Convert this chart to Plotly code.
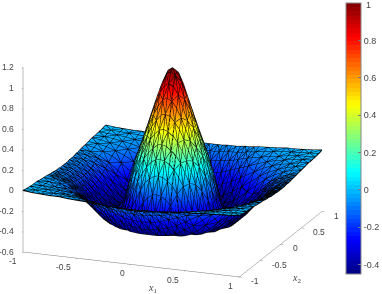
import plotly.graph_objects as go

# Grid node coordinates of one quadrant (distance from centre along each input axis)
node_offsets = [0, .04, .0833, .125, .1667, .2083, .25, .2917, .3333, .375, .4167, .5, .5833, .6667, .75, .8333, .9167, 1]

# Surface heights for the quadrant x1>=0, x2>=0 (rows: x1, cols: x2)
z_quadrant = [
    [1.00, .97, .87, .745, .60, .465, .33, .20, .05, -.12, -.30, -.44, -.44, -.36, -.26, -.17, -.105, -.065],
    [.97, .945, .845, .72, .585, .45, .32, .19, .04, -.13, -.305, -.44, -.44, -.36, -.26, -.165, -.105, -.065],
    [.87, .845, .77, .655, .53, .41, .28, .16, .01, -.16, -.32, -.44, -.44, -.355, -.255, -.165, -.10, -.065],
    [.745, .72, .655, .565, .465, .35, .235, .11, -.03, -.21, -.36, -.445, -.435, -.345, -.25, -.16, -.10, -.06],
    [.60, .585, .53, .465, .37, .27, .17, .04, -.11, -.28, -.39, -.45, -.43, -.335, -.24, -.155, -.095, -.06],
    [.465, .45, .41, .35, .27, .185, .08, -.04, -.20, -.34, -.415, -.45, -.415, -.32, -.225, -.15, -.09, -.06],
    [.33, .32, .28, .235, .17, .08, -.02, -.16, -.30, -.395, -.43, -.45, -.40, -.305, -.21, -.14, -.09, -.055],
    [.20, .19, .16, .11, .04, -.04, -.16, -.28, -.375, -.425, -.44, -.445, -.38, -.29, -.195, -.125, -.085, -.05],
    [.05, .04, .01, -.03, -.11, -.20, -.30, -.375, -.42, -.44, -.45, -.43, -.355, -.265, -.18, -.115, -.075, -.05],
    [-.12, -.13, -.16, -.21, -.28, -.34, -.395, -.425, -.44, -.45, -.45, -.41, -.325, -.245, -.165, -.105, -.07, -.045],
    [-.30, -.305, -.32, -.36, -.39, -.415, -.43, -.44, -.45, -.45, -.44, -.38, -.30, -.215, -.15, -.095, -.065, -.04],
    [-.44, -.44, -.44, -.445, -.45, -.45, -.45, -.445, -.43, -.41, -.38, -.31, -.24, -.17, -.115, -.08, -.05, -.035],
    [-.44, -.44, -.44, -.435, -.43, -.415, -.40, -.38, -.355, -.325, -.30, -.24, -.175, -.125, -.09, -.06, -.04, -.03],
    [-.36, -.36, -.355, -.345, -.335, -.32, -.305, -.29, -.265, -.245, -.215, -.17, -.125, -.09, -.065, -.05, -.03, -.02],
    [-.26, -.26, -.255, -.25, -.24, -.225, -.21, -.195, -.18, -.165, -.15, -.115, -.09, -.065, -.05, -.035, -.025, -.02],
    [-.17, -.165, -.165, -.16, -.155, -.15, -.14, -.125, -.115, -.105, -.095, -.08, -.06, -.05, -.035, -.025, -.02, -.015],
    [-.105, -.105, -.10, -.10, -.095, -.09, -.09, -.085, -.075, -.07, -.065, -.05, -.04, -.03, -.025, -.02, -.015, -.01],
    [-.065, -.065, -.065, -.06, -.06, -.06, -.055, -.05, -.05, -.045, -.04, -.035, -.03, -.02, -.02, -.015, -.01, 0],
]

x_ticks = [-1, -0.5, 0, 0.5, 1]
y_ticks = [-1, -0.5, 0, 0.5, 1]
z_ticks = [-0.6, -0.4, -0.2, 0, 0.2, 0.4, 0.6, 0.8, 1, 1.2]
cbar_ticks = [-0.4, -0.2, 0, 0.2, 0.4, 0.6, 0.8]
cbar_top_label = "1"
cmin, cmax = -0.45, 1.0


def jet(t):
    r = min(1, max(0, min(4 * t - 1.5, -4 * t + 4.5)))
    g = min(1, max(0, min(4 * t - 0.5, -4 * t + 3.5)))
    b = min(1, max(0, min(4 * t + 0.5, -4 * t + 2.5)))
    return f"rgb({int(r*255)},{int(g*255)},{int(b*255)})"


N = 64
scale = []
for k in range(N):
    c = jet((k + 0.5) / N)
    scale += [[k / N, c], [(k + 1) / N, c]]

m = len(node_offsets)
axis = [-v for v in node_offsets[:0:-1]] + node_offsets
n = len(axis)
xs, ys, zs = [], [], []
for a in range(n):
    for b in range(n):
        xs.append(axis[a])
        ys.append(axis[b])
        zs.append(z_quadrant[abs(a - (m - 1))][abs(b - (m - 1))])

idx = lambda a, b: a * n + b
I, J, K = [], [], []
ex, ey, ez = [], [], []


def edge(p, q):
    ex.extend([xs[p], xs[q], None])
    ey.extend([ys[p], ys[q], None])
    ez.extend([zs[p], zs[q], None])


for a in range(n):
    for b in range(n):
        if a < n - 1:
            edge(idx(a, b), idx(a + 1, b))
        if b < n - 1:
            edge(idx(a, b), idx(a, b + 1))
        if a < n - 1 and b < n - 1:
            p, q, r, s = idx(a, b), idx(a + 1, b), idx(a + 1, b + 1), idx(a, b + 1)
            if (a + b) % 2 == 0:
                I += [p, p]; J += [q, r]; K += [r, s]
                edge(p, r)
            else:
                I += [p, q]; J += [q, r]; K += [s, s]
                edge(q, s)

fig = go.Figure()
fig.add_trace(go.Mesh3d(
    x=xs, y=ys, z=zs, i=I, j=J, k=K, intensity=zs,
    colorscale=scale, cmin=cmin, cmax=cmax, flatshading=True,
    lighting=dict(ambient=1, diffuse=0, specular=0, roughness=1, fresnel=0),
    hoverinfo="skip",
    colorbar=dict(
        thickness=15, thicknessmode="pixels", len=271, lenmode="pixels",
        x=346 / 382, xanchor="left", xref="paper",
        y=1 - 3 / 294, yanchor="top", yref="paper",
        tickvals=cbar_ticks, ticktext=[f"{v:g}" for v in cbar_ticks],
        ticks="inside", ticklen=3, tickcolor="#777", outlinecolor="#888", outlinewidth=1,
        xpad=0, ypad=0,
        tickfont=dict(family="Liberation Sans", size=9, color="#444"),
    ),
))
fig.add_trace(go.Scatter3d(
    x=ex, y=ey, z=ez, mode="lines", line=dict(color="black", width=2),
    hoverinfo="skip", showlegend=False,
))

ax_common = dict(
    showbackground=False, showgrid=False, zeroline=False, showspikes=False,
    showline=True, linecolor="#777", linewidth=1, ticks="outside", ticklen=3,
    tickcolor="#777", showticklabels=False, title=dict(text=""),
)
title_font = dict(family="Liberation Serif", size=10, color="#444")
tick_font = dict(family="Liberation Sans", size=8.5, color="#444")

notes = [
    dict(x=0.2, y=-1, z=-0.6, text="<i>x</i><sub>1</sub>", showarrow=False, yshift=-22, font=title_font),
    dict(x=1, y=-0.1, z=-0.6, text="<i>x</i><sub>2</sub>", showarrow=False, xshift=20, yshift=-31, font=title_font),
]
for v in x_ticks:
    notes.append(dict(x=v, y=-1, z=-0.6, text=f"{v:g}", showarrow=False, xanchor="right",
                      xshift=-4, yshift=-9, font=tick_font))
for v in y_ticks:
    notes.append(dict(x=1, y=v, z=-0.6, text=f"{v:g}", showarrow=False, xanchor="left",
                      xshift=10, yshift=-4, font=tick_font))
for v in z_ticks:
    notes.append(dict(x=-1, y=-1, z=v, text=f"{v:g}", showarrow=False, xanchor="right",
                      xshift=-7, font=tick_font))

S = 1.66
fig.update_layout(
    width=382, height=294, margin=dict(l=0, r=0, t=0, b=0),
    paper_bgcolor="white", showlegend=False,
    annotations=[dict(
        x=365 / 382, y=1 - 5 / 294, xref="paper", yref="paper", xanchor="left", yanchor="middle",
        text=cbar_top_label, showarrow=False,
        font=dict(family="Liberation Sans", size=9, color="#444"),
    )],
    scene=dict(
        domain=dict(x=[0, 346 / 382], y=[1 - 279 / 294, 1]),
        aspectmode="manual", aspectratio=dict(x=S, y=S, z=0.836 * S),
        camera=dict(
            projection=dict(type="orthographic"),
            eye=dict(x=0.34 * 2, y=-0.89 * 2, z=0.302 * 2),
            center=dict(x=0, y=0, z=0), up=dict(x=0, y=0, z=1),
        ),
        xaxis=dict(range=[-1, 1], tickvals=x_ticks, **ax_common),
        yaxis=dict(range=[-1, 1], tickvals=y_ticks, **ax_common),
        zaxis=dict(range=[-0.6, 1.2], tickvals=z_ticks, **ax_common),
        annotations=notes,
    ),
)
fig.write_html("out.html", post_script="document.body.style.margin='0';",
               config=dict(displayModeBar=False))
